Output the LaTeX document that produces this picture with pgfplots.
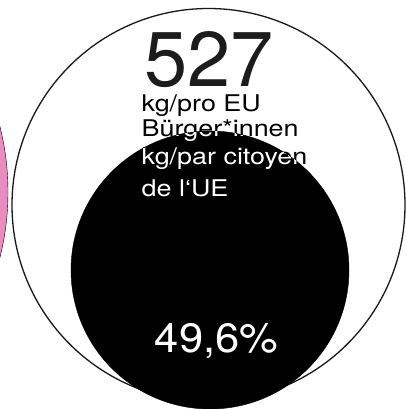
\documentclass[border=0pt]{standalone}
\usepackage{pgfplots}
\pgfplotsset{compat=1.18}
\usepackage{fontspec}
\setmainfont{TeX Gyre Heros}
\newfontfamily\widefont[FakeStretch=1.17]{TeX Gyre Heros}
\newfontfamily\pctfont[FakeStretch=1.06]{TeX Gyre Heros}
\definecolor{pinkc}{HTML}{EA8CBF}
\definecolor{numc}{HTML}{1C1C1C}
\newcommand{\textlines}[1]{%
  \node[anchor=base west, inner sep=0pt, text=#1, font=\widefont\fontsize{23}{25}\selectfont] at (axis cs:141.5,111.7) {kg/pro EU};
  \node[anchor=base west, inner sep=0pt, text=#1, font=\widefont\fontsize{23}{25}\selectfont] at (axis cs:141.5,136.7) {Bürger*innen};
  \node[anchor=base west, inner sep=0pt, text=#1, font=\widefont\fontsize{23}{25}\selectfont] at (axis cs:141.5,164) {kg/par citoyen};
  \node[anchor=base west, inner sep=0pt, text=#1, font=\widefont\fontsize{23}{25}\selectfont] at (axis cs:141.5,196) {de l‘UE};
}
\begin{document}
\begin{tikzpicture}
\begin{axis}[x=1pt, y=1pt, y dir=reverse,
  xmin=-280, xmax=406, ymin=0, ymax=420,
  hide axis, clip=false, clip marker paths=true]
\coordinate (bl) at (axis cs:0,409);
\coordinate (tr) at (axis cs:406,0);
% neighbouring circle (partly visible)
\addplot[only marks, mark=*, mark size=268pt, mark options={draw=none, fill=pinkc}] coordinates {(-260,192)};
% total: 527 kg per EU citizen
\addplot[only marks, mark=*, mark size=196.5pt, mark options={draw=black!90, fill=white, line width=1.3pt}] coordinates {(208.5,205)};
\node[anchor=base west, inner sep=0pt, text=numc, font=\fontsize{77.6}{80}\selectfont] at (axis cs:144.5,87) {527};
\textlines{black}
% share: 49.6 %
\addplot[only marks, mark=*, mark size=139pt, mark options={draw=none, fill=black}] coordinates {(210,270)};
\begin{scope}
\clip (axis cs:210,270) circle [radius=139pt];
\textlines{white}
\end{scope}
\node[anchor=base, inner sep=0pt, text=white, font=\pctfont\fontsize{41}{44}\selectfont] at (axis cs:216.5,352) {49,6\%};
\end{axis}
\pgfresetboundingbox
\path[use as bounding box] (bl) rectangle (tr);
\end{tikzpicture}
\end{document}
